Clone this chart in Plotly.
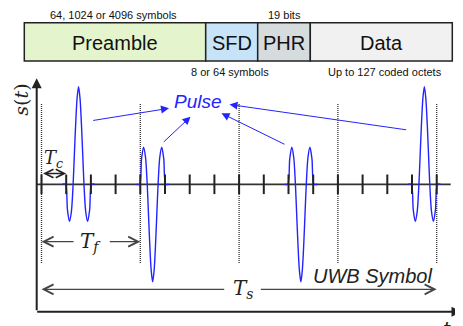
import plotly.graph_objects as go

# ---------------- data ----------------
N_CHIPS = 16                      # chips per UWB symbol
CHIPS_PER_FRAME = 4               # chips per frame (Tf = 4 Tc)
PULSE_CHIP = [1.5, 4.5, 10.5, 15.5]   # pulse centre (in chips)
PULSE_POLARITY = [1, -1, -1, 1]
# pulse template (offset in chips, normalised amplitude)
PULSE_OFFSETS = [-0.65, -0.53, -0.45, -0.37, -0.29, -0.22, -0.17, -0.12, -0.06, 0.0,
                 0.06, 0.12, 0.17, 0.22, 0.29, 0.37, 0.45, 0.53, 0.65]
PULSE_SHAPE = [0.0, 0.0, -0.26, -0.38, -0.28, 0.0, 0.3, 0.6, 0.88, 1.0,
               0.88, 0.6, 0.3, 0.0, -0.28, -0.38, -0.26, 0.0, 0.0]

FIELD_NAMES = ["Preamble", "SFD", "PHR", "Data"]
FIELD_COLORS = ["#e4f5cd", "#c6e3f8", "#d6dbde", "#f1f1f1"]
TOP_LABELS = ["64, 1024 or 4096 symbols", "19 bits"]
BOTTOM_LABELS = ["8 or 64 symbols", "Up to 127 coded octets"]

# ---------------- geometry (pixels of the 463x326 page) ----------------
W, H = 463, 326
PAGE_OFF = 8              # the page body margin: the figure starts 8px in
FW, FH = W - PAGE_OFF, H - PAGE_OFF
X0 = 41.5                 # page x of chip 0
CHIP_PX = 24.7            # pixels per chip
Y0 = 184.3                # page y of the zero line
AMP_PX = 97.5             # pixels per unit amplitude


def dx(px):
    return (px - X0) / CHIP_PX


def dy(py):
    return (Y0 - py) / AMP_PX


def pxp(x):
    return (x - PAGE_OFF) / FW


def pyp(y):
    return 1 - (y - PAGE_OFF) / FH


SANS = "Liberation Sans, Arial, sans-serif"
SERIF = "DejaVu Serif, serif"
BLUE = "#2323ff"
INK = "#222222"

fig = go.Figure()

# pulses
for c, pol in zip(PULSE_CHIP, PULSE_POLARITY):
    fig.add_trace(go.Scatter(
        x=[c + o for o in PULSE_OFFSETS],
        y=[pol * v for v in PULSE_SHAPE],
        mode="lines", line=dict(color=BLUE, width=1.4, shape="spline", smoothing=0.8),
        hoverinfo="skip"))

shapes = []
# zero line
shapes.append(dict(type="line", xref="x", yref="y", x0=dx(36.7), x1=dx(450.7), y0=0, y1=0,
                   line=dict(color="#333333", width=1.8), layer="below"))
# frame boundaries (dotted)
for k in range(0, N_CHIPS + 1, CHIPS_PER_FRAME):
    shapes.append(dict(type="line", xref="x", yref="y", x0=k, x1=k, y0=dy(104), y1=dy(263),
                       line=dict(color="#333333", width=1.3, dash="1px,1px"), layer="below"))

# chip ticks
chips = list(range(N_CHIPS + 1))
fig.add_trace(go.Scatter(x=chips, y=[0] * len(chips), mode="markers",
                         marker=dict(symbol="line-ns", size=14,
                                     line=dict(color=INK, width=2)),
                         hoverinfo="skip"))

# header box
edges = [24.3, 205.7, 257.7, 310.3, 452.3]
hy0, hy1 = 22.7, 61
for i, (name, col) in enumerate(zip(FIELD_NAMES, FIELD_COLORS)):
    shapes.append(dict(type="rect", xref="paper", yref="paper",
                       x0=pxp(edges[i]), x1=pxp(edges[i + 1]), y0=pyp(hy1), y1=pyp(hy0),
                       fillcolor=col, line=dict(color=INK, width=1.5)))

annotations = []
for i, name in enumerate(FIELD_NAMES):
    annotations.append(dict(xref="paper", yref="paper", x=pxp((edges[i] + edges[i + 1]) / 2), y=pyp(43),
                            text=name, showarrow=False, xanchor="center", yanchor="middle",
                            font=dict(family=SANS, size=20, color="#111111")))
for txt, cx, cy in zip(TOP_LABELS + BOTTOM_LABELS, [113, 284, 229.7, 385], [15, 15, 72, 72]):
    annotations.append(dict(xref="paper", yref="paper", x=pxp(cx), y=pyp(cy), text=txt,
                            showarrow=False, xanchor="center", yanchor="middle",
                            font=dict(family=SANS, size=11, color="#111111")))

# axes arrows
annotations.append(dict(xref="paper", yref="paper", x=pxp(36.7), y=pyp(78.3), ax=0, ay=233.4,
                        text="", showarrow=True, arrowhead=2, arrowsize=1, arrowwidth=2, arrowcolor=INK))
annotations.append(dict(xref="paper", yref="paper", x=pxp(461.5), y=pyp(311.7), ax=-(461.5 - 35.7), ay=0,
                        text="", showarrow=True, arrowhead=2, arrowsize=1, arrowwidth=2, arrowcolor=INK))
annotations.append(dict(xref="paper", yref="paper", x=pxp(20.7), y=pyp(100), text="<i>s</i>(<i>t</i>)",
                        textangle=-90, showarrow=False, xanchor="center", yanchor="middle",
                        font=dict(family=SERIF, size=19, color=INK)))
annotations.append(dict(xref="paper", yref="paper", x=pxp(447), y=pyp(315), text="<i>t</i>",
                        showarrow=False, xanchor="center", yanchor="top",
                        font=dict(family=SERIF, size=19, color=INK)))

# Pulse label and blue arrows
annotations.append(dict(xref="paper", yref="paper", x=pxp(198.3), y=pyp(101.5), text="<i>Pulse</i>",
                        showarrow=False, xanchor="center", yanchor="middle",
                        font=dict(family=SANS, size=19, color=BLUE)))
for (tx, ty), (hx, hy) in [((91.7, 120.7), (169, 108.3)), ((162.3, 143.3), (190.5, 116.7)),
                           ((286, 145), (221.5, 113.3)), ((407.7, 130), (229.5, 104.5))]:
    annotations.append(dict(xref="paper", yref="paper", x=pxp(hx), y=pyp(hy), ax=tx - hx, ay=ty - hy,
                            text="", showarrow=True, arrowhead=2, arrowsize=1.6, arrowwidth=1,
                            arrowcolor=BLUE))

# Tc, Tf, Ts dimension arrows
annotations.append(dict(xref="x", yref="y", x=1, y=dy(173.5), axref="x", ayref="y", ax=0, ay=dy(173.5),
                        text="", showarrow=True, arrowhead=5, startarrowhead=5, arrowside="end+start",
                        arrowsize=1.3, startarrowsize=1.3, arrowwidth=1.3, arrowcolor=INK))
annotations.append(dict(xref="x", yref="y", x=0.5, y=dy(159), text="<i>T</i><sub><i>c</i></sub>",
                        showarrow=False, xanchor="center", yanchor="middle",
                        font=dict(family=SERIF, size=18, color=INK)))

ty_f = dy(241.7)
annotations.append(dict(xref="x", yref="y", x=0, y=ty_f, axref="x", ayref="y", ax=dx(75), ay=ty_f,
                        text="", showarrow=True, arrowhead=5, arrowsize=1.5, arrowwidth=1.3, arrowcolor="#444444"))
annotations.append(dict(xref="x", yref="y", x=CHIPS_PER_FRAME, y=ty_f, axref="x", ayref="y", ax=dx(108.3), ay=ty_f,
                        text="", showarrow=True, arrowhead=5, arrowsize=1.5, arrowwidth=1.3, arrowcolor="#444444"))
annotations.append(dict(xref="x", yref="y", x=CHIPS_PER_FRAME / 2, y=dy(242), text="<i>T</i><sub><i>f</i></sub>",
                        showarrow=False, xanchor="center", yanchor="middle",
                        font=dict(family=SERIF, size=20, color=INK)))

ty_s = dy(289.3)
annotations.append(dict(xref="x", yref="y", x=0, y=ty_s, axref="x", ayref="y", ax=dx(225.7), ay=ty_s,
                        text="", showarrow=True, arrowhead=5, arrowsize=1.5, arrowwidth=1.3, arrowcolor="#444444"))
annotations.append(dict(xref="x", yref="y", x=N_CHIPS, y=ty_s, axref="x", ayref="y", ax=dx(259.3), ay=ty_s,
                        text="", showarrow=True, arrowhead=5, arrowsize=1.5, arrowwidth=1.3, arrowcolor="#444444"))
annotations.append(dict(xref="paper", yref="paper", x=pxp(243), y=pyp(289), text="<i>T</i><sub><i>s</i></sub>",
                        showarrow=False, xanchor="center", yanchor="middle",
                        font=dict(family=SERIF, size=20, color=INK)))
annotations.append(dict(xref="paper", yref="paper", x=pxp(372.5), y=pyp(276), text="<i>UWB Symbol</i>",
                        showarrow=False, xanchor="center", yanchor="middle",
                        font=dict(family=SANS, size=20, color=INK)))

fig.update_layout(
    width=FW, height=FH, margin=dict(l=0, r=0, t=0, b=0),
    paper_bgcolor="white", plot_bgcolor="white", showlegend=False,
    xaxis=dict(range=[dx(PAGE_OFF), dx(W)], visible=False, fixedrange=True),
    yaxis=dict(range=[dy(H), dy(PAGE_OFF)], visible=False, fixedrange=True),
    shapes=shapes, annotations=annotations,
)

fig.write_html("out.html")
